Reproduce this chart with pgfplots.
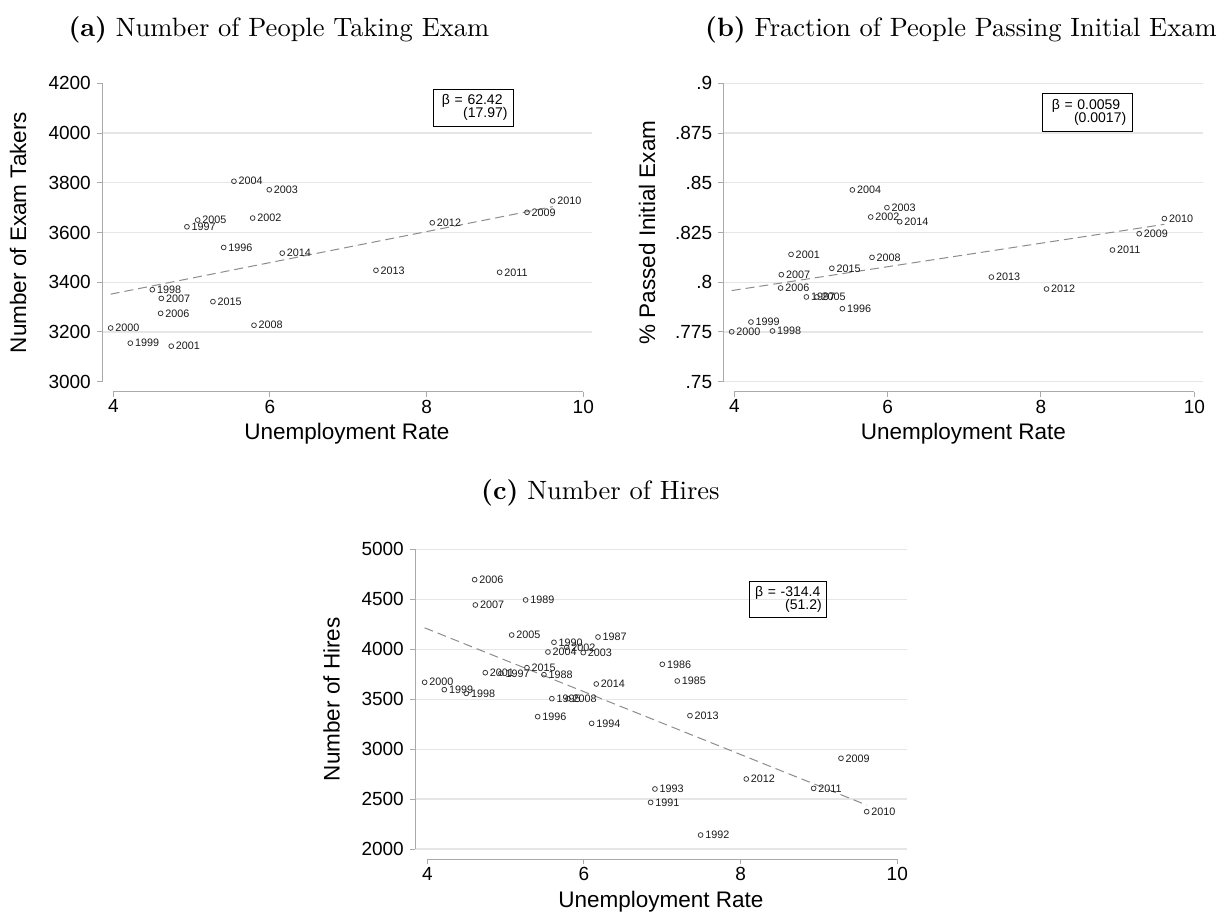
\documentclass[border=0pt]{standalone}
\usepackage{pgfplots}
\usepackage{pgfplotstable}
\pgfplotsset{compat=1.18}
\usepackage{fontspec}
\newfontfamily\arial{Liberation Sans}
\newfontfamily\lmten[BoldFont=lmroman10-bold.otf]{lmroman10-regular.otf}
\definecolor{axisgray}{RGB}{170,170,170}
\definecolor{gridgray}{RGB}{230,230,230}
\definecolor{markgray}{RGB}{60,60,60}
\definecolor{fitgray}{RGB}{140,140,140}

\pgfplotstableread{
x y lab
3.966 3216 2000
4.217 3155 1999
4.498 3370 1998
4.604 3275 2006
4.613 3335 2007
4.740 3143 2001
4.940 3623 1997
5.077 3650 2005
5.272 3322 2015
5.409 3540 1996
5.540 3806 2004
5.779 3658 2002
5.796 3227 2008
5.991 3772 2003
6.157 3517 2014
7.353 3448 2013
8.072 3639 2012
8.932 3440 2011
9.281 3681 2009
9.609 3727 2010
}\dataA

\pgfplotstableread{
x y lab
3.966 0.7751 2000
4.217 0.7800 1999
4.498 0.7755 1998
4.604 0.7971 2006
4.613 0.8038 2007
4.740 0.8140 2001
4.940 0.7926 1997
5.077 0.7926 2005
5.272 0.8070 2015
5.409 0.7867 1996
5.540 0.8464 2004
5.779 0.8328 2002
5.796 0.8125 2008
5.991 0.8375 2003
6.157 0.8304 2014
7.353 0.8026 2013
8.072 0.7966 2012
8.932 0.8162 2011
9.281 0.8244 2009
9.609 0.8320 2010
}\dataB

\pgfplotstableread{
x y lab
3.966 3669 2000
4.217 3595 1999
4.498 3558 1998
4.604 4696 2006
4.613 4443 2007
4.740 3765 2001
4.940 3759 1997
5.077 4142 2005
5.272 3815 2015
5.409 3325 1996
5.540 3972 2004
5.779 4019 2002
5.796 3505 2008
5.991 3966 2003
6.157 3652 2014
7.353 3335 2013
8.072 2701 2012
8.932 2607 2011
9.281 2908 2009
9.609 2374 2010
7.191 3682 1985
7.000 3849 1986
6.179 4122 1987
5.489 3745 1988
5.255 4493 1989
5.617 4069 1990
6.851 2467 1991
7.489 2140 1992
6.906 2601 1993
6.098 3258 1994
5.590 3505 1995
}\dataC

\pgfplotsset{
  statastyle/.style={
    scale only axis,
    clip=false,
    anchor=south west,
    axis x line*=bottom, axis y line*=left,
    axis line style={draw=none},
    tick align=outside,
    major tick length=5pt,
    tick style={axisgray, line width=1pt},
    ymajorgrids,
    grid style={gridgray, line width=1.2pt},
    xtick={4,6,8,10},
    ticklabel style={font=\arial\fontsize{19}{22}\selectfont, text=black},
    /pgf/number format/assume math mode=true,
    /pgf/number format/1000 sep={},
    xticklabel style={anchor=north, inner sep=0pt, yshift=-3pt},
    yticklabel style={anchor=east, inner sep=0pt, xshift=-6pt},
  },
  pts/.style={only marks, mark=o, mark size=2.4pt,
    mark options={draw=markgray, line width=0.8pt},
    nodes near coords, point meta=explicit symbolic,
    nodes near coords style={anchor=west, inner sep=0pt, xshift=4.3pt,
      font=\arial\fontsize{10.8}{12}\selectfont, text=black!90}},
  fitl/.style={no marks, fitgray, line width=1pt, dash pattern=on 9pt off 5pt},
}

\tikzset{
  axlab/.style={font=\arial\fontsize{22.5}{25}\selectfont, inner sep=0pt},
  ttl/.style={font=\lmten\fontsize{26.5}{30}\selectfont, inner sep=0pt, anchor=base west},
  betabox/.style={draw=black, line width=1pt, font=\arial\fontsize{14}{13.3}\selectfont,
    align=right, inner xsep=6pt, inner ysep=0pt},
}

\begin{document}
\begin{tikzpicture}
\useasboundingbox (0,0) rectangle (1231pt,914pt);

% ---------------- (a)
\begin{axis}[statastyle, at={(102pt,522.3pt)}, width=490pt, height=308.4pt,
  xmin=3.8557, xmax=10.111, ymin=2959.8, ymax=4200,
  ytick={3200,3400,3600,3800,4000},
  extra y ticks={3000,4200}, extra y tick style={grid=none}]
\draw[axisgray, line width=1pt] (axis cs:4,2959.8) -- (axis cs:10,2959.8);
\draw[axisgray, line width=1pt] (axis cs:3.8557,3000) -- (axis cs:3.8557,4200);
\addplot[fitl] coordinates {(3.966,3352) (9.609,3704)};
\addplot[pts] table[x=x, y=y, meta=lab] {\dataA};
\end{axis}

% ---------------- (b)
\begin{axis}[statastyle, at={(723.3pt,522.3pt)}, width=480pt, height=308.4pt,
  xmin=3.8565, xmax=10.117, ymin=0.74497, ymax=0.9,
  ytick={0.75,0.775,0.8,0.825,0.85,0.875,0.9},
  yticklabels={.75,.775,.8,.825,.85,.875,.9}]
\draw[axisgray, line width=1pt] (axis cs:4,0.74497) -- (axis cs:10,0.74497);
\draw[axisgray, line width=1pt] (axis cs:3.8565,0.75) -- (axis cs:3.8565,0.9);
\addplot[fitl] coordinates {(3.966,0.7958) (9.609,0.8291)};
\addplot[pts] table[x=x, y=y, meta=lab] {\dataB};
\end{axis}

% ---------------- (c)
\begin{axis}[statastyle, at={(415pt,55pt)}, width=491.7pt, height=309.7pt,
  xmin=3.843, xmax=10.12, ymin=1900, ymax=5000,
  ytick={2000,2500,3000,3500,4000,4500,5000}]
\draw[axisgray, line width=1pt] (axis cs:4,1900) -- (axis cs:10,1900);
\draw[axisgray, line width=1pt] (axis cs:3.843,2000) -- (axis cs:3.843,5000);
\addplot[fitl] coordinates {(3.966,4214) (9.609,2440)};
\addplot[pts] table[x=x, y=y, meta=lab] {\dataC};
\end{axis}

% titles
\node[ttl] at (68.3pt,877.3pt) {\textbf{(a)} Number of People Taking Exam};
\node[ttl] at (705pt,877.3pt) {\textbf{(b)} Fraction of People Passing Initial Exam};
\node[ttl] at (481pt,414.7pt) {\textbf{(c)} Number of Hires};

% axis labels
\node[axlab, rotate=90, anchor=base] at (26pt,681.5pt) {Number of Exam Takers};
\node[axlab, anchor=base] at (347pt,474pt) {Unemployment Rate};
\node[axlab, rotate=90, anchor=base] at (655pt,681.5pt) {\% Passed Initial Exam};
\node[axlab, anchor=base] at (963.3pt,474pt) {Unemployment Rate};
\node[axlab, rotate=90, anchor=base] at (339.5pt,214.8pt) {Number of Hires};
\node[axlab, anchor=base] at (660.9pt,6.7pt) {Unemployment Rate};

% beta boxes
\node[betabox, text width=67.7pt, minimum height=36.7pt] at (473.7pt,806.3pt)
  {\mbox{β = 62.42}\hspace{5pt}\mbox{}\\\mbox{(17.97)}};
\node[betabox, text width=77.4pt, minimum height=37.3pt] at (1087.5pt,801.4pt)
  {\mbox{β = 0.0059}\hspace{6pt}\mbox{}\\\mbox{(0.0017)}};
\node[betabox, text width=68pt, minimum height=36pt, inner xsep=4.5pt] at (787.7pt,314.3pt)
  {\mbox{β = -314.4}\hspace{1.3pt}\mbox{}\\\mbox{(51.2)}};
\end{tikzpicture}
\end{document}
